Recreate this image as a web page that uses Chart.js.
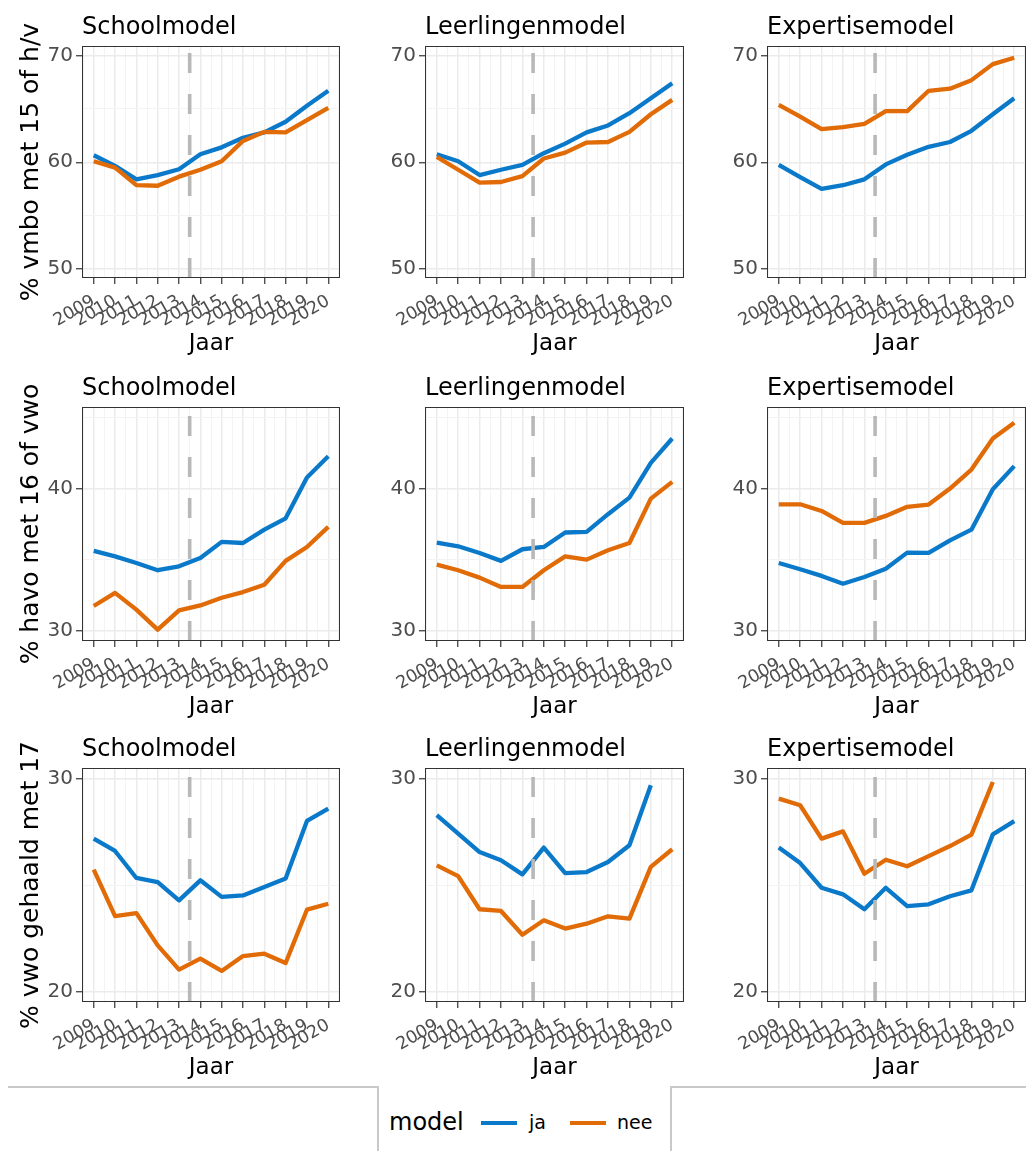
<!DOCTYPE html>
<html>
<head>
<meta charset="utf-8">
<script src="https://cdn.jsdelivr.net/npm/chart.js@4.4.1/dist/chart.umd.min.js"></script>
<style>
html,body{margin:0;padding:0;background:#fff;overflow:hidden;width:1026px;height:1151px;position:relative;font-family:"DejaVu Sans",sans-serif;}
.panel{position:absolute;}
.panel canvas{display:block;}
.frame{position:absolute;border-color:#c9c9c9;border-style:solid;border-width:0;}
.leg{position:absolute;color:#000;white-space:nowrap;line-height:1;}
.sw{position:absolute;height:4px;width:36px;}
</style>
</head>
<body>
<script>
// ---------- data ----------
const years = [2009,2010,2011,2012,2013,2014,2015,2016,2017,2018,2019,2020];
const modelTitles = ['Schoolmodel','Leerlingenmodel','Expertisemodel'];
const rowTitles = ['% vmbo met 15 of h/v','% havo met 16 of vwo','% vwo gehaald met 17'];
const seriesNames = ['ja','nee'];
const reformYear = 2013.5;

// row 1: % vmbo met 15 of h/v
const vmboSchoolJa  = [60.66,59.66,58.40,58.80,59.35,60.75,61.40,62.30,62.80,63.80,65.30,66.70];
const vmboSchoolNee = [60.10,59.50,57.85,57.80,58.65,59.30,60.10,62.00,62.85,62.80,63.95,65.10];
const vmboLeerJa    = [60.75,60.10,58.80,59.30,59.75,60.85,61.75,62.80,63.45,64.60,66.00,67.40];
const vmboLeerNee   = [60.50,59.30,58.10,58.15,58.70,60.35,60.90,61.85,61.90,62.85,64.50,65.85];
const vmboExpJa     = [59.75,58.60,57.50,57.85,58.40,59.80,60.70,61.45,61.90,62.95,64.50,66.00];
const vmboExpNee    = [65.37,64.27,63.10,63.30,63.60,64.80,64.80,66.70,66.90,67.70,69.20,69.80];

// row 2: % havo met 16 of vwo
const havoSchoolJa  = [35.60,35.22,34.75,34.24,34.52,35.10,36.24,36.16,37.10,37.90,40.78,42.28];
const havoSchoolNee = [31.72,32.64,31.46,30.05,31.41,31.76,32.30,32.70,33.22,34.90,35.88,37.30];
const havoLeerJa    = [36.19,35.93,35.46,34.90,35.72,35.88,36.90,36.94,38.19,39.36,41.81,43.53];
const havoLeerNee   = [34.64,34.24,33.72,33.06,33.06,34.24,35.22,34.99,35.65,36.16,39.29,40.47];
const havoExpJa     = [34.75,34.31,33.84,33.29,33.76,34.35,35.48,35.46,36.35,37.10,39.95,41.58];
const havoExpNee    = [38.89,38.89,38.42,37.58,37.58,38.07,38.71,38.87,40.00,41.34,43.53,44.64];

// row 3: % vwo gehaald met 17 (values above the axis limit are not shown)
const vwoSchoolJa   = [27.18,26.60,25.33,25.14,24.28,25.22,24.44,24.51,24.91,25.30,28.01,28.59];
const vwoSchoolNee  = [25.72,23.54,23.68,22.16,21.02,21.54,20.96,21.66,21.77,21.33,23.84,24.12];
const vwoLeerJa     = [28.28,27.41,26.55,26.16,25.50,26.76,25.56,25.61,26.08,26.87,29.69,null];
const vwoLeerNee    = [25.92,25.42,23.86,23.78,22.66,23.34,22.95,23.18,23.53,23.42,25.85,26.68];
const vwoExpJa      = [26.76,26.03,24.87,24.56,23.86,24.87,24.01,24.09,24.47,24.75,27.38,28.00];
const vwoExpNee     = [29.06,28.75,27.18,27.52,25.53,26.19,25.88,26.36,26.83,27.37,29.84,null];

// axes
const yMinByRow = [49.15, 29.25, 19.5];
const yMaxByRow = [70.9, 45.75, 30.5];
const yMajorByRow = [[50,60,70],[30,40],[20,30]];
const yMinorByRow = [[55,65],[35,45],[25]];
const xMin = 2008.45, xMax = 2020.55;
const xMinor = [2008.5,2009.5,2010.5,2011.5,2012.5,2013.5,2014.5,2015.5,2016.5,2017.5,2018.5,2019.5,2020.5];

const grid = [
  [[vmboSchoolJa, vmboSchoolNee],[vmboLeerJa, vmboLeerNee],[vmboExpJa, vmboExpNee]],
  [[havoSchoolJa, havoSchoolNee],[havoLeerJa, havoLeerNee],[havoExpJa, havoExpNee]],
  [[vwoSchoolJa, vwoSchoolNee],[vwoLeerJa, vwoLeerNee],[vwoExpJa, vwoExpNee]]
];

// ---------- style / layout ----------
const FONT = '"DejaVu Sans", sans-serif';
const BLUE = '#0a79c9', ORANGE = '#e16b06', VLINE = '#b8b8b8';
const colL = [82, 425, 767], colR = [340, 684, 1026];
const rowT = [46, 407, 768], rowB = [278, 641, 1002];
const TOPPAD = 46, XH = 80;

const borderPlugin = {
  id: 'panelFrame',
  afterDraw(chart, args, opts) {
    const {ctx, chartArea: a} = chart;
    ctx.save();
    ctx.strokeStyle = '#333333';
    ctx.lineWidth = 1;
    ctx.strokeRect(Math.round(a.left) + 0.5, Math.round(a.top) + 0.5, Math.round(a.right - a.left) - 1, Math.round(a.bottom - a.top) - 1);
    ctx.fillStyle = '#000';
    ctx.font = '24px ' + FONT;
    ctx.textAlign = 'left';
    ctx.textBaseline = 'alphabetic';
    ctx.fillText(opts.text, a.left, a.top - 12);
    ctx.restore();
  }
};

function isIn(arr, v) { return arr.some(a => Math.abs(a - v) < 1e-6); }

function makePanel(r, c) {
  const yW = c === 0 ? colL[0] : 60;
  const left = colL[c] - yW;
  const top = rowT[r] - TOPPAD;
  const width = colR[c] - left;
  const height = rowB[r] - top + XH;
  const div = document.createElement('div');
  div.className = 'panel';
  div.style.left = left + 'px';
  div.style.top = top + 'px';
  div.style.width = width + 'px';
  div.style.height = height + 'px';
  const cv = document.createElement('canvas');
  div.appendChild(cv);
  document.body.appendChild(div);

  const [ja, nee] = grid[r][c];
  const yMin = yMinByRow[r], yMax = yMaxByRow[r];
  const yMaj = yMajorByRow[r], yMin2 = yMinorByRow[r];

  new Chart(cv, {
    type: 'line',
    data: {
      datasets: [
        {
          label: 'reform',
          data: [{x: reformYear, y: yMin}, {x: reformYear, y: yMax}],
          borderColor: VLINE, borderWidth: 3.6, borderDash: [20, 21],
          pointRadius: 0, order: 0, borderCapStyle: 'butt'
        },
        {
          label: seriesNames[1],
          data: years.map((yr, i) => ({x: yr, y: nee[i]})),
          borderColor: ORANGE, borderWidth: 4.3, pointRadius: 0, tension: 0,
          order: 1, spanGaps: false, borderJoinStyle: 'round'
        },
        {
          label: seriesNames[0],
          data: years.map((yr, i) => ({x: yr, y: ja[i]})),
          borderColor: BLUE, borderWidth: 4.3, pointRadius: 0, tension: 0,
          order: 2, spanGaps: false, borderJoinStyle: 'round'
        }
      ]
    },
    options: {
      responsive: true,
      maintainAspectRatio: false,
      animation: false,
      events: [],
      layout: {padding: {top: TOPPAD, left: 0, right: 0, bottom: 0}},
      plugins: {
        legend: {display: false},
        tooltip: {enabled: false},
        title: {display: false},
        panelFrame: {text: modelTitles[c]}
      },
      scales: {
        x: {
          type: 'linear',
          min: xMin, max: xMax,
          afterBuildTicks(scale) {
            const t = years.concat(xMinor).sort((a, b) => a - b);
            scale.ticks = t.map(v => ({value: v}));
          },
          afterFit(scale) {
            scale.height = XH;
            scale.paddingLeft = 0;
            scale.paddingRight = 0;
          },
          ticks: {
            autoSkip: false,
            minRotation: 30, maxRotation: 30,
            padding: 7,
            color: '#4d4d4d',
            font: {family: FONT, size: 17.5},
            callback: (v) => isIn(years, v) ? String(v) : ''
          },
          grid: {
            color: (ctx) => (ctx.tick && isIn(xMinor, ctx.tick.value)) ? '#f3f3f3' : '#ebebeb',
            lineWidth: (ctx) => (ctx.tick && isIn(xMinor, ctx.tick.value)) ? 1 : 1.5,
            tickColor: (ctx) => (ctx.tick && isIn(xMinor, ctx.tick.value)) ? 'rgba(0,0,0,0)' : '#333333',
            tickLength: 6,
            tickWidth: 1.2
          },
          border: {display: false},
          title: {
            display: true, text: 'Jaar', color: '#000',
            font: {family: FONT, size: 23}, padding: {top: 0, bottom: 0}
          }
        },
        y: {
          type: 'linear',
          min: yMin, max: yMax,
          afterBuildTicks(scale) {
            const t = yMaj.concat(yMin2).sort((a, b) => a - b);
            scale.ticks = t.map(v => ({value: v}));
          },
          afterFit(scale) { scale.width = yW; },
          ticks: {
            padding: 3,
            color: '#4d4d4d',
            font: {family: FONT, size: 20},
            callback: (v) => isIn(yMaj, v) ? String(v) : ''
          },
          grid: {
            color: (ctx) => (ctx.tick && isIn(yMin2, ctx.tick.value)) ? '#f3f3f3' : '#ebebeb',
            lineWidth: (ctx) => (ctx.tick && isIn(yMin2, ctx.tick.value)) ? 1 : 1.5,
            tickColor: (ctx) => (ctx.tick && isIn(yMin2, ctx.tick.value)) ? 'rgba(0,0,0,0)' : '#333333',
            tickLength: 6,
            tickWidth: 1.2
          },
          border: {display: false},
          title: {
            display: c === 0, text: rowTitles[r], color: '#000',
            font: {family: FONT, size: 25}, padding: {top: 16, bottom: 0}
          }
        }
      }
    },
    plugins: [borderPlugin]
  });
}

for (let r = 0; r < 3; r++) for (let c = 0; c < 3; c++) makePanel(r, c);
</script>

<!-- legend frame -->
<div class="frame" style="left:8px;top:1086px;width:370px;height:0;border-top-width:2px;"></div>
<div class="frame" style="left:377px;top:1086px;width:0;height:70px;border-left-width:2px;"></div>
<div class="frame" style="left:670px;top:1086px;width:360px;height:0;border-top-width:2px;"></div>
<div class="frame" style="left:670px;top:1086px;width:0;height:70px;border-left-width:2px;"></div>
<!-- legend -->
<div class="leg" style="left:389px;top:1110px;font-size:24px;">model</div>
<div class="sw" style="left:481px;top:1121px;background:#0a79c9;"></div>
<div class="leg" style="left:529px;top:1113px;font-size:19px;">ja</div>
<div class="sw" style="left:570px;top:1121px;background:#e16b06;"></div>
<div class="leg" style="left:617px;top:1113px;font-size:19px;">nee</div>
</body>
</html>
